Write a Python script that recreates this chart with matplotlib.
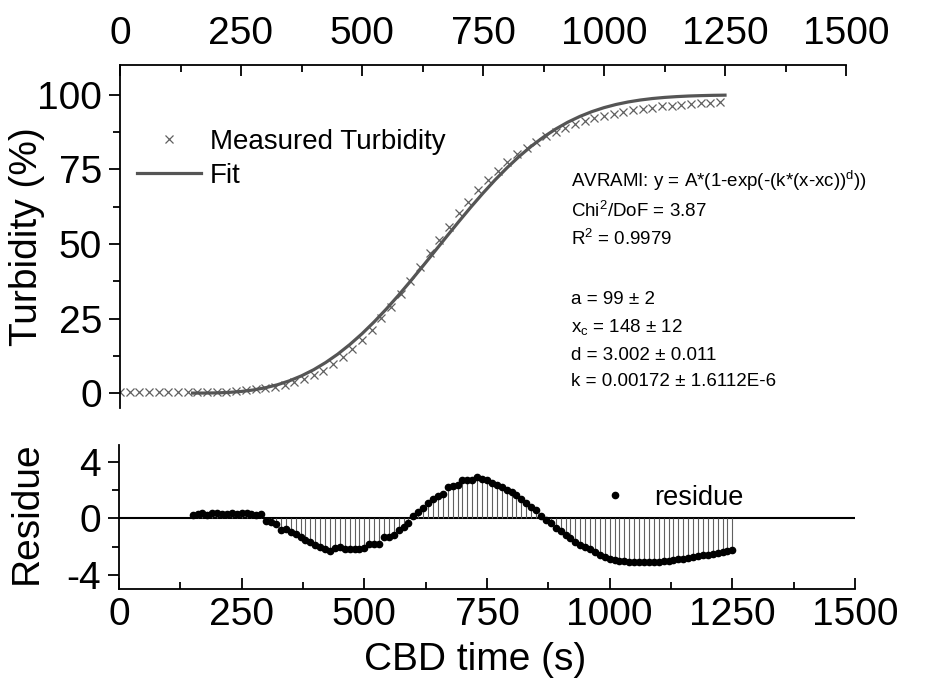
import numpy as np
import matplotlib.pyplot as plt
from matplotlib.ticker import MultipleLocator

plt.rcParams['font.family'] = ['Liberation Sans', 'DejaVu Sans']
plt.rcParams['mathtext.fontset'] = 'custom'
plt.rcParams['mathtext.rm'] = 'Liberation Sans'
plt.rcParams['mathtext.it'] = 'Liberation Sans:italic'
plt.rcParams['axes.unicode_minus'] = False

# measured turbidity, every 20 s
meas_time = np.arange(0, 1241, 20)
meas_turb = [0.3, 0.3, 0.3, 0.3, 0.3, 0.3, 0.3, 0.3,
             0.3, 0.3, 0.4, 0.5, 0.7, 1.1, 1.4, 1.6,
             2.2, 2.8, 3.6, 4.7, 6.0, 7.5, 9.8, 12.2,
             14.8, 17.8, 21.2, 25.1, 28.8, 33.1, 37.6, 42.2,
             46.9, 51.2, 55.8, 60.3, 64.1, 68.0, 71.4, 74.5,
             77.4, 80.1, 82.3, 84.3, 86.1, 87.6, 89.0, 90.2,
             91.2, 92.1, 92.9, 93.6, 94.2, 94.8, 95.3, 95.7,
             96.1, 96.4, 96.7, 97.0, 97.2, 97.4, 97.6]

# Avrami fit curve, every 25 s
fit_time = np.arange(150, 1251, 25)
fit_turb = [0.0, 0.01, 0.07, 0.23, 0.54, 1.04, 1.77, 2.78, 4.11, 5.78,
            7.82, 10.25, 13.07, 16.30, 19.90, 23.86, 28.14, 32.71, 37.49, 42.43,
            47.46, 52.51, 57.50, 62.37, 67.04, 71.47, 75.59, 79.38, 82.80, 85.84,
            88.51, 90.81, 92.75, 94.37, 95.70, 96.77, 97.61, 98.26, 98.76, 99.13,
            99.40, 99.60, 99.73, 99.83, 99.89]

# residue (measured - fit), every 10 s
res_time = np.arange(150, 1251, 10)
residue = [0.25, 0.3, 0.35, 0.25, 0.4, 0.35, 0.3, 0.3, 0.35, 0.3,
           0.35, 0.4, 0.3, 0.25, 0.3, -0.15, -0.25, -0.4, -0.8, -0.75,
           -0.95, -1.1, -1.3, -1.5, -1.65, -1.85, -2.05, -2.2, -2.3, -2.1,
           -2.05, -2.15, -2.2, -2.15, -2.15, -2.1, -1.8, -1.8, -1.8, -1.35,
           -1.3, -1.15, -0.8, -0.6, -0.3, 0.15, 0.45, 0.75, 1.1, 1.4,
           1.6, 1.7, 2.2, 2.3, 2.4, 2.75, 2.75, 2.7, 2.9, 2.8,
           2.7, 2.5, 2.35, 2.2, 2.0, 1.85, 1.65, 1.4, 1.1, 0.8,
           0.6, 0.2, -0.1, -0.35, -0.65, -0.9, -1.15, -1.4, -1.65, -1.85,
           -2.0, -2.2, -2.4, -2.6, -2.75, -2.85, -2.95, -3.0, -3.05, -3.1,
           -3.12, -3.12, -3.12, -3.12, -3.1, -3.08, -3.05, -3.0, -2.95, -2.9,
           -2.85, -2.8, -2.75, -2.68, -2.62, -2.57, -2.5, -2.45, -2.38, -2.32,
           -2.25]

fit_text = [r'AVRAMI: y = A*(1-exp(-(k*(x-xc))$^\mathregular{d}$))',
            r'Chi$^\mathregular{2}$/DoF = 3.87',
            r'R$^\mathregular{2}$ = 0.9979',
            'a = 99 ± 2',
            r'x$_\mathregular{c}$ = 148 ± 12',
            'd = 3.002 ± 0.011',
            'k = 0.00172 ± 1.6112E-6']
text_y = [181, 211, 239, 300, 327, 355, 382]

W, H = 925, 687
fig = plt.figure(figsize=(W / 100, H / 100), dpi=100)
ax1 = fig.add_axes([120 / W, 1 - 408 / H, 726 / W, 343 / H])
ax2 = fig.add_axes([119 / W, 1 - 589 / H, 736 / W, 144 / H])

# top panel
ax1.plot(meas_time, meas_turb, 'x', color='#606060', ms=6, mew=0.9,
         label='Measured Turbidity')
ax1.plot(fit_time, fit_turb, '-', color='#555555', lw=2.3, label='Fit')
ax1.set_xlim(0, 1500)
ax1.set_ylim(-5, 110)
ax1.xaxis.set_major_locator(MultipleLocator(250))
ax1.xaxis.set_minor_locator(MultipleLocator(125))
ax1.yaxis.set_major_locator(MultipleLocator(25))
ax1.yaxis.set_minor_locator(MultipleLocator(12.5))
ax1.spines['bottom'].set_visible(False)
ax1.spines['right'].set_visible(False)
for s in ['top', 'left']:
    ax1.spines[s].set_linewidth(1.3)
ax1.tick_params(axis='x', which='both', direction='in', top=True, bottom=False,
                labeltop=True, labelbottom=False, labelsize=28, pad=9)
ax1.tick_params(axis='y', which='both', direction='out', labelsize=28, pad=5)
ax1.tick_params(which='major', length=8, width=1.3)
ax1.tick_params(which='minor', length=5, width=1.3)
ax1.set_ylabel('Turbidity (%)', fontsize=28)
ax1.yaxis.set_label_coords(-0.103, 0.5)
ax1.legend(loc='upper left', bbox_to_anchor=(0.024, 0.813), frameon=False,
           fontsize=20, handlelength=2.3, handletextpad=0.3, labelspacing=0.28,
           borderpad=0, borderaxespad=0)

for t, y in zip(fit_text, text_y):
    fig.text(571 / W, 1 - y / H, t, fontsize=13.5, va='center', ha='left')

# residue panel
ax2.axhline(0, color='black', lw=1.5)
ax2.vlines(res_time, 0, residue, color='#606060', lw=0.8)
ax2.plot(res_time, residue, 'o', color='black', ms=4.5, label='residue')
ax2.set_xlim(0, 1500)
ax2.set_ylim(-5, 5.2)
ax2.xaxis.set_major_locator(MultipleLocator(250))
ax2.xaxis.set_minor_locator(MultipleLocator(125))
ax2.set_yticks([-4, 0, 4])
ax2.set_yticks([-2, 2], minor=True)
ax2.spines['top'].set_visible(False)
ax2.spines['right'].set_visible(False)
for s in ['bottom', 'left']:
    ax2.spines[s].set_linewidth(1.3)
ax2.tick_params(axis='x', which='both', direction='in', labelsize=28, pad=6)
ax2.tick_params(axis='y', which='both', direction='out', labelsize=28, pad=5)
ax2.tick_params(which='major', length=8, width=1.3)
ax2.tick_params(which='minor', length=5, width=1.3)
ax2.set_ylabel('Residue', fontsize=28)
ax2.yaxis.set_label_coords(-0.1005, 0.53)
ax2.set_xlabel('CBD time (s)', fontsize=28)
ax2.xaxis.set_label_coords(0.484, -0.37)
ax2.legend(loc='center left', bbox_to_anchor=(0.650, 0.635), frameon=False,
           fontsize=19.5, handlelength=1.3, handletextpad=0.8,
           borderpad=0, borderaxespad=0)

fig.savefig('out.png', dpi=100)
